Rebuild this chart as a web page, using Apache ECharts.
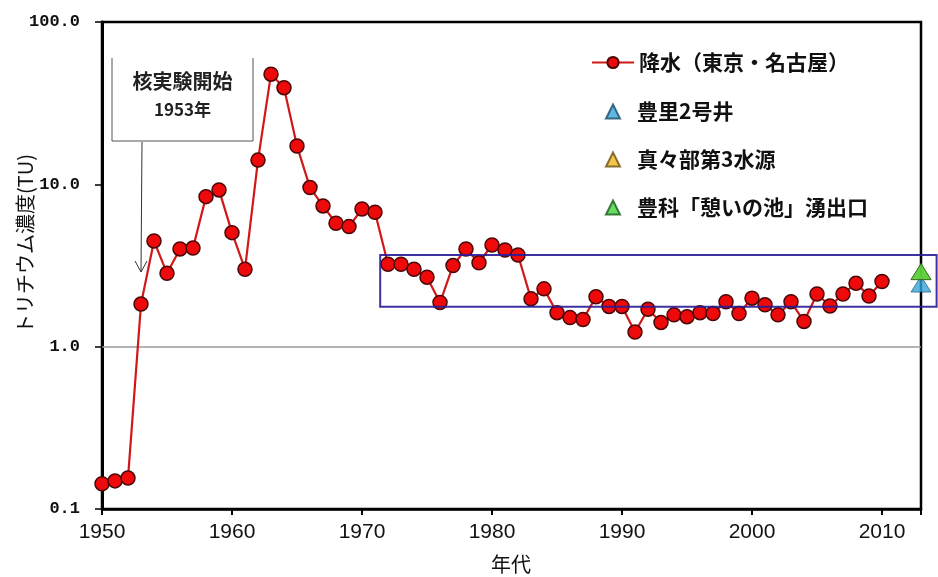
<!DOCTYPE html>
<html>
<head>
<meta charset="utf-8">
<script src="https://cdn.jsdelivr.net/npm/echarts@6/dist/echarts.min.js"></script>
<style>
html,body{margin:0;padding:0;background:#fff;}
#main{width:938px;height:577px;}
</style>
</head>
<body>
<div id="main"></div>
<script>
// ---- data ----
const years = [1950,1951,1952,1953,1954,1955,1956,1957,1958,1959,
               1960,1961,1962,1963,1964,1965,1966,1967,1968,1969,
               1970,1971,1972,1973,1974,1975,1976,1977,1978,1979,
               1980,1981,1982,1983,1984,1985,1986,1987,1988,1989,
               1990,1991,1992,1993,1994,1995,1996,1997,1998,1999,
               2000,2001,2002,2003,2004,2005,2006,2007,2008,2009,2010];
const rain = [0.143,0.149,0.155,1.83,4.48,2.83,4.0,4.05,8.4,9.24,
              5.04,3.0,14.1,47.7,39.4,17.2,9.55,7.36,5.76,5.49,
              7.05,6.73,3.22,3.22,3.0,2.68,1.87,3.16,4.0,3.29,
              4.23,3.94,3.67,1.97,2.27,1.62,1.51,1.47,2.03,1.77,
              1.77,1.23,1.70,1.41,1.57,1.53,1.62,1.60,1.89,1.60,
              1.99,1.81,1.57,1.89,1.43,2.11,1.78,2.11,2.46,2.05,2.52];
const wellYear = 2013;
const toyosato = [2.43];
const mamabe = [2.9];
const ikoi = [2.9];
const seriesNames = ['降水（東京・名古屋）','豊里2号井','真々部第3水源','豊科「憩いの池」湧出口'];
const xTicks = [1950,1960,1970,1980,1990,2000,2010];
const yTickLabels = ['0.1','1.0','10.0','100.0'];
const testStart = 1953;
const boxRange = {x0:1971.4, x1:2014.2, yHigh:3.67, yLow:1.76};
const annotationLines = ['核実験開始','1953年'];
const xName = '年代';
const yName = 'トリチウム濃度(TU)';

const chart = echarts.init(document.getElementById('main'));
const sans = '"Liberation Sans", Arial, sans-serif';
const cjk = '"Noto Sans CJK JP", "Noto Sans", sans-serif';
const legendText = {fontFamily:cjk, fontSize:21, fontWeight:'bold', color:'#111'};

const option = {
  animation: false,
  backgroundColor: '#fff',
  grid: {left:102, right:17, top:22, bottom:68, show:true, borderColor:'#000', borderWidth:2.5, backgroundColor:'transparent'},
  legend: [
    {
      orient:'vertical', left:586, top:47, itemWidth:42, itemHeight:14,
      textStyle:legendText, data:[seriesNames[0]]
    },
    {
      orient:'vertical', left:600, top:96, itemWidth:14, itemHeight:14, itemGap:27,
      textStyle:Object.assign({padding:[0,0,0,12]}, legendText),
      data:[seriesNames[1], seriesNames[2], seriesNames[3]]
    }
  ],
  xAxis: {
    type:'value', min:1950, max:2013, interval:10,
    axisLine:{lineStyle:{color:'#000', width:2.5}},
    axisTick:{show:true, length:6, lineStyle:{color:'#000', width:2}},
    axisLabel:{margin:13, fontFamily:sans, fontSize:21, color:'#111',
      formatter: v => xTicks.indexOf(v) >= 0 ? String(v) : ''},
    splitLine:{show:false}
  },
  yAxis: {
    type:'log', logBase:10, min:0.1, max:100,
    axisLine:{show:true, lineStyle:{color:'#000', width:3}},
    axisTick:{show:true, length:7, lineStyle:{color:'#000', width:1.5}},
    axisLabel:{margin:22, fontFamily:'"Liberation Mono", "DejaVu Sans Mono", monospace', fontWeight:'bold', fontSize:17, color:'#111',
      formatter: v => {
        const idx = Math.round(Math.log10(v)) + 1;
        return yTickLabels[idx] !== undefined ? yTickLabels[idx] : '';
      }},
    splitLine:{show:false},
    minorTick:{show:false}
  },
  series: [
    {
      name: seriesNames[0], type:'line',
      data: years.map((y,i)=>[y, rain[i]]),
      symbol:'circle', symbolSize:14,
      lineStyle:{color:'#d01818', width:2.2},
      itemStyle:{color:'#ee0a0a', borderColor:'#4a0606', borderWidth:1.5},
      z:3,
      markLine:{silent:true, symbol:'none', label:{show:false},
        lineStyle:{color:'#9a9a9a', type:'solid', width:1.5},
        data:[{yAxis:1}], z:1}
    },
    {
      name: seriesNames[1], type:'scatter', clip:false,
      data: toyosato.map(v=>[wellYear, v]),
      symbol:'triangle', symbolSize:[20,16],
      itemStyle:{color:'#35a7dc', borderColor:'#1a4a66', borderWidth:0.8}, z:4
    },
    {
      name: seriesNames[2], type:'scatter', clip:false,
      data: mamabe.map(v=>[wellYear, v]),
      symbol:'triangle', symbolSize:[20,16],
      itemStyle:{color:'#f2b820', borderColor:'#6a5010', borderWidth:0.8}, z:5
    },
    {
      name: seriesNames[3], type:'scatter', clip:false,
      data: ikoi.map(v=>[wellYear, v]),
      symbol:'triangle', symbolSize:[20,16],
      itemStyle:{color:'#3ed43e', borderColor:'#1a5a1a', borderWidth:0.8}, z:6
    }
  ]
};
chart.setOption(option);

// ---- annotations from data coordinates ----
const p0 = chart.convertToPixel({gridIndex:0}, [boxRange.x0, boxRange.yHigh]);
const p1 = chart.convertToPixel({gridIndex:0}, [boxRange.x1, boxRange.yLow]);
const arrowX = chart.convertToPixel({gridIndex:0}, [testStart, 1])[0];
const boxL = 112, boxR = 253, boxT = 58, boxB = 141;

chart.setOption({
  graphic: [
    {type:'rect', z:50, silent:true,
      shape:{x:p0[0], y:p0[1], width:p1[0]-p0[0], height:p1[1]-p0[1]},
      style:{fill:'none', stroke:'rgba(40,28,150,0.9)', lineWidth:2}},
    {type:'polyline', z:40, silent:true,
      shape:{points:[[boxL,boxT],[boxL,boxB],[boxR,boxB],[boxR,boxT]]},
      style:{fill:'none', stroke:'#555', lineWidth:1}},
    {type:'text', z:40, silent:true, x:(boxL+boxR)/2, y:81,
      style:{text:annotationLines[0], font:'bold 20px "Noto Sans CJK JP"', fill:'#222', align:'center', verticalAlign:'middle'}},
    {type:'text', z:40, silent:true, x:(boxL+boxR)/2, y:110,
      style:{text:annotationLines[1], font:'bold 17px "Noto Sans CJK JP"', fill:'#222', align:'center', verticalAlign:'middle'}},
    {type:'line', z:40, silent:true,
      shape:{x1:arrowX+1, y1:boxB+1, x2:arrowX, y2:272},
      style:{stroke:'#333', lineWidth:1}},
    {type:'polyline', z:40, silent:true,
      shape:{points:[[arrowX-6,261],[arrowX,272],[arrowX+6,261]]},
      style:{fill:'none', stroke:'#333', lineWidth:1}},
    {type:'text', z:40, silent:true, x:25, y:244, rotation:Math.PI/2,
      style:{text:yName, font:'20px "Noto Sans CJK JP"', fill:'#111', align:'center', verticalAlign:'middle'}},
    {type:'text', z:40, silent:true, x:511, y:564,
      style:{text:xName, font:'20px "Noto Sans CJK JP"', fill:'#111', align:'center', verticalAlign:'middle'}}
  ]
});
</script>
</body>
</html>
